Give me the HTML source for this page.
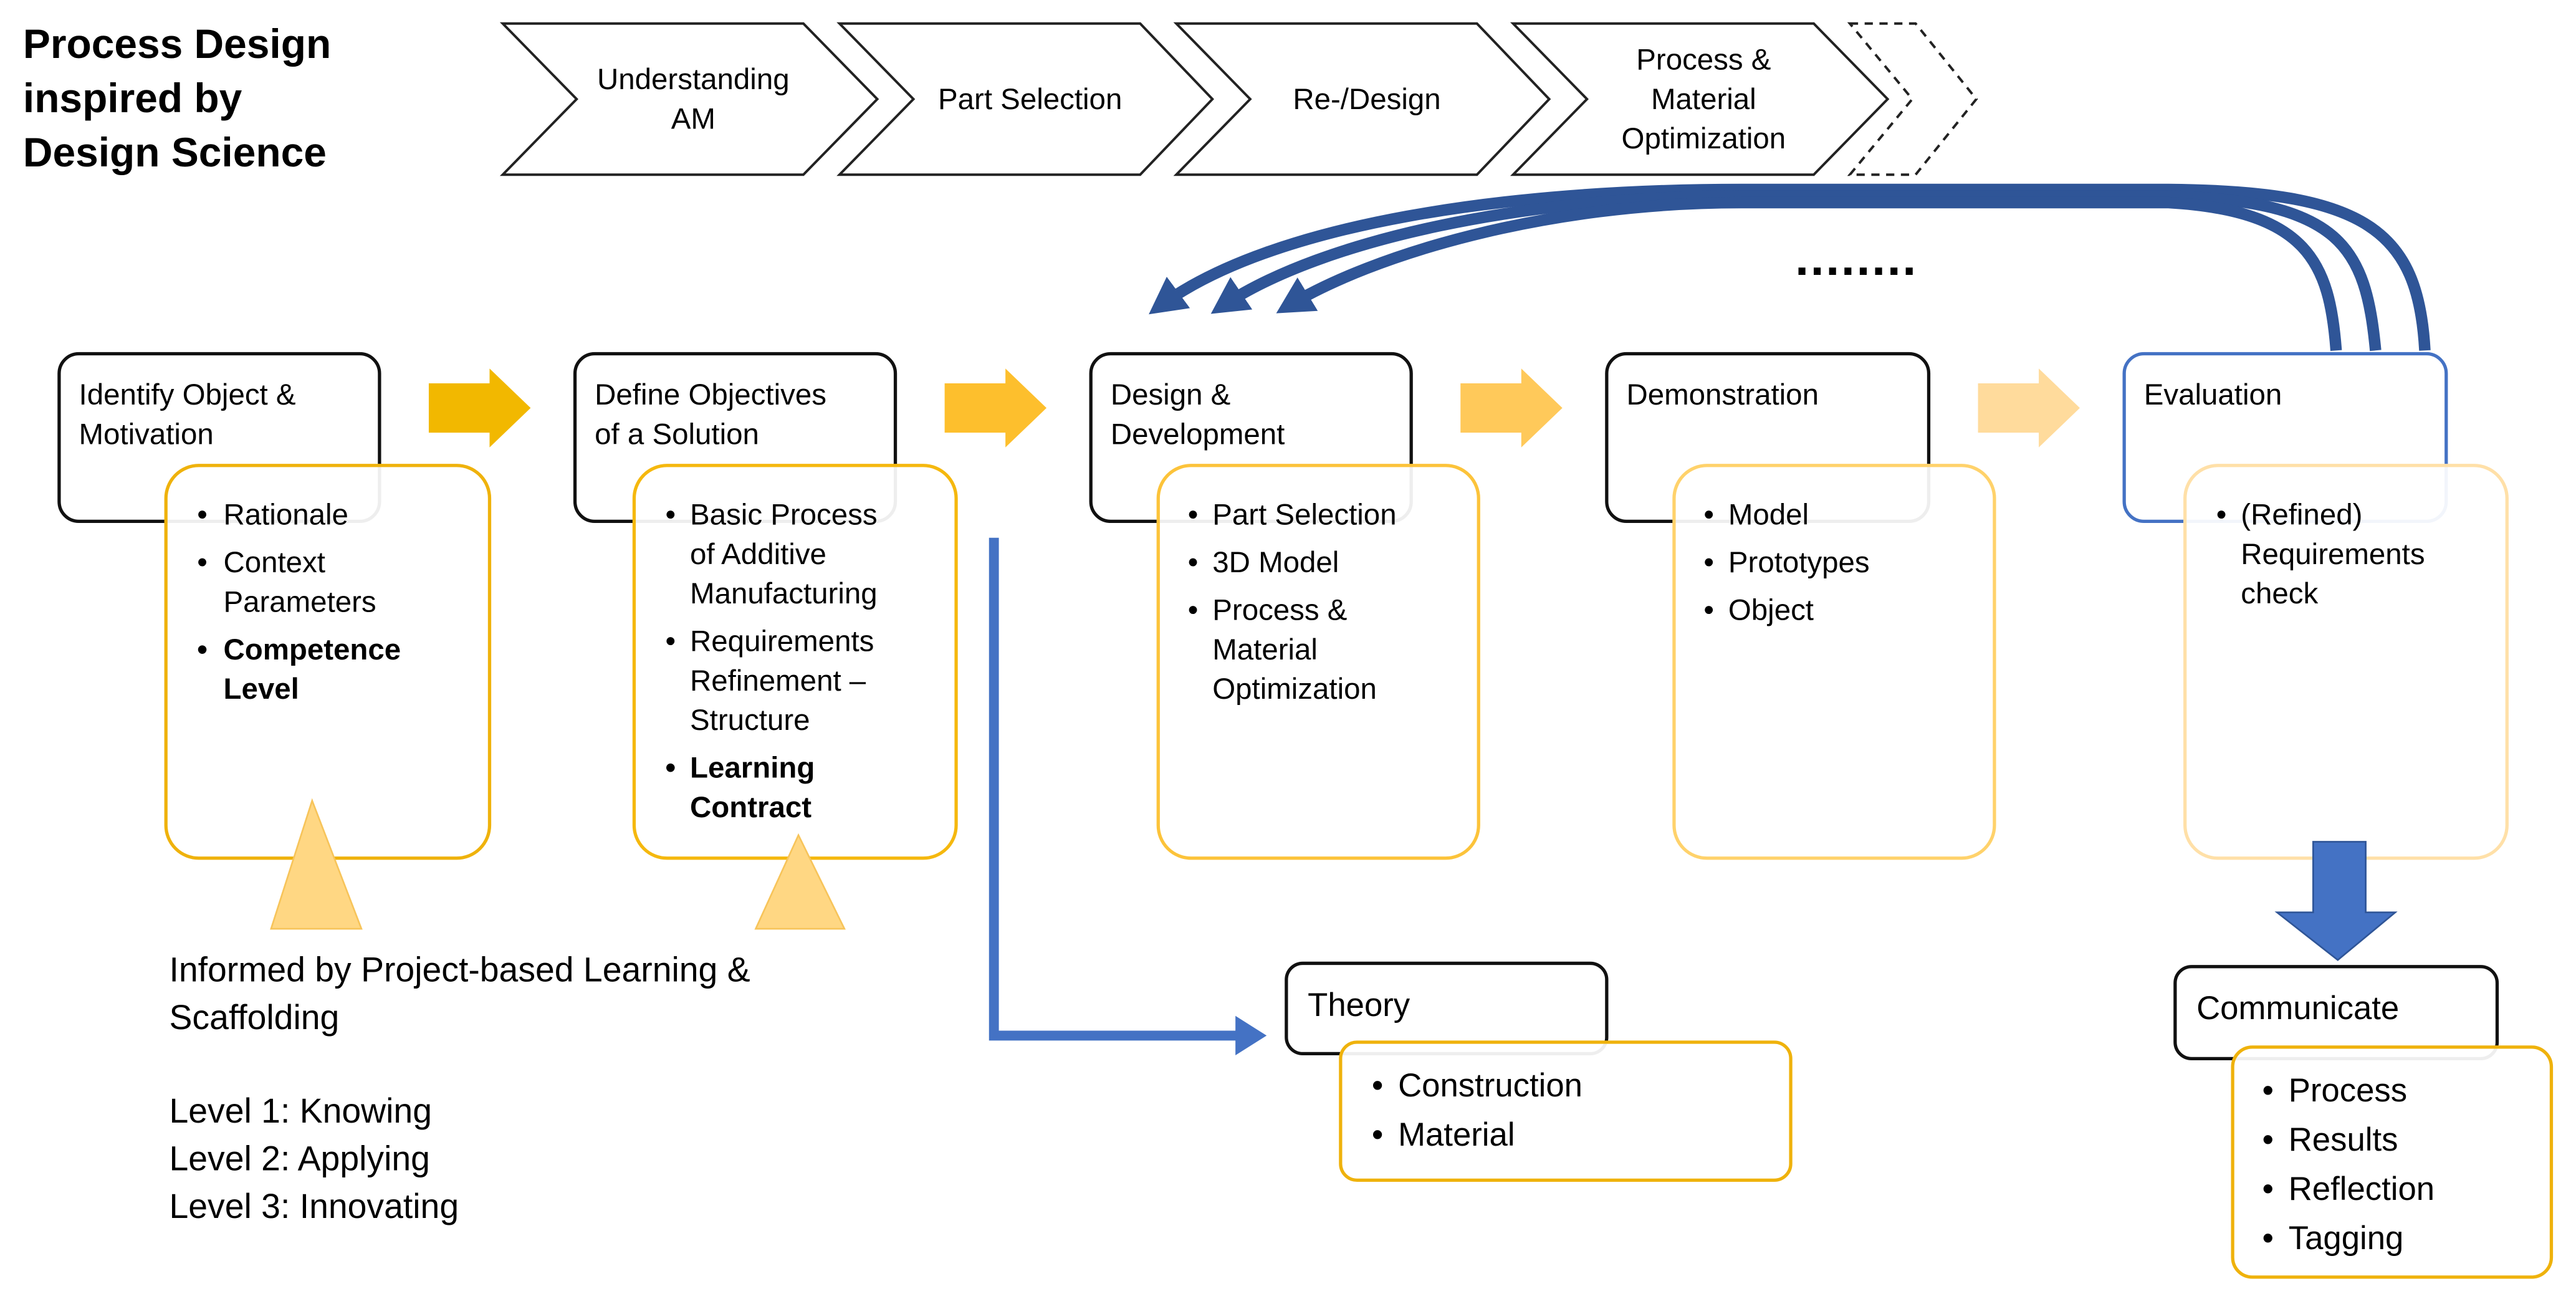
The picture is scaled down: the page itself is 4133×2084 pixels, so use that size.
<!DOCTYPE html>
<html><head><meta charset="utf-8"><style>
html,body{margin:0;padding:0;background:#fff;}
svg{display:block;}
text{font-family:"Liberation Sans",sans-serif;font-size:18px;fill:#000;}
.b{font-weight:bold;}
.l{font-size:21px;}
.m{font-size:20px;}
</style></head><body>
<svg width="4133" height="2084" viewBox="0 0 1568 790" xmlns="http://www.w3.org/2000/svg">
<defs>
<marker id="ah" markerWidth="4" markerHeight="4" refX="2" refY="2" orient="auto" markerUnits="strokeWidth">
<path d="M0,0.3 L3.2,2 L0,3.7 Z" fill="#2F5597"/>
</marker>
</defs>
<rect width="1568" height="790" fill="#fff"/>
<text x="14" y="35" class="b" style="font-size:25px">Process Design</text>
<text x="14" y="68" class="b" style="font-size:25px">inspired by</text>
<text x="14" y="101" class="b" style="font-size:25px">Design Science</text>
<g fill="#fff" stroke="#222" stroke-width="1.5">
<path d="M306,14 L489,14 L534,60 L489,106 L306,106 L351,60 Z"/>
<path d="M511,14 L694,14 L738,60 L694,106 L511,106 L556,60 Z"/>
<path d="M716,14 L899,14 L943,60 L899,106 L716,106 L761,60 Z"/>
<path d="M921,14 L1104,14 L1149,60 L1104,106 L921,106 L966,60 Z"/>
<path d="M1126,14 L1166,14 L1203,60 L1166,106 L1126,106 L1164,60 Z" stroke-dasharray="5,4"/>
</g>
<text x="422" y="54" text-anchor="middle">Understanding</text>
<text x="422" y="78" text-anchor="middle">AM</text>
<text x="627" y="66" text-anchor="middle">Part Selection</text>
<text x="832" y="66" text-anchor="middle">Re-/Design</text>
<text x="1037" y="42" text-anchor="middle">Process &amp;</text>
<text x="1037" y="66" text-anchor="middle">Material</text>
<text x="1037" y="90" text-anchor="middle">Optimization</text>
<g fill="none" stroke="#2F5597" stroke-width="7" stroke-linecap="butt">
<path d="M1476,213 C1472,140 1440,116 1320,115 L1060,115 C920,115 775,135 706,186" marker-end="url(#ah)"/>
<path d="M1446,213 C1440,150 1425,122 1320,119 L1060,119 C930,119 805,145 744,186" marker-end="url(#ah)"/>
<path d="M1422,213 C1418,160 1405,128 1320,123 L1060,123 C940,123 835,155 784,186" marker-end="url(#ah)"/>
</g>
<text x="1130" y="167" text-anchor="middle" class="b" style="font-size:30px;letter-spacing:1px">........</text>
<g fill="#fff" stroke-width="2">
<rect x="36" y="215" width="195" height="102" rx="12" stroke="#111"/>
<rect x="350" y="215" width="195" height="102" rx="12" stroke="#111"/>
<rect x="664" y="215" width="195" height="102" rx="12" stroke="#111"/>
<rect x="978" y="215" width="196" height="102" rx="12" stroke="#111"/>
<rect x="1293" y="215" width="196" height="102" rx="12" stroke="#4472C4"/>
</g>
<text x="48" y="246">Identify Object &amp;</text>
<text x="48" y="270">Motivation</text>
<text x="362" y="246">Define Objectives</text>
<text x="362" y="270">of a Solution</text>
<text x="676" y="246">Design &amp;</text>
<text x="676" y="270">Development</text>
<text x="990" y="246">Demonstration</text>
<text x="1305" y="246">Evaluation</text>
<path d="M261,233 L298,233 L298,224 L323,248 L298,272 L298,263 L261,263 Z" fill="#F2B800"/>
<path d="M575,233 L612,233 L612,224 L637,248 L612,272 L612,263 L575,263 Z" fill="#FDBF2D"/>
<path d="M889,233 L926,233 L926,224 L951,248 L926,272 L926,263 L889,263 Z" fill="#FFC95A"/>
<path d="M1204,233 L1241,233 L1241,224 L1266,248 L1241,272 L1241,263 L1204,263 Z" fill="#FFDB9C"/>
<g fill="#fff" fill-opacity="0.93" stroke-width="2">
<rect x="101" y="283" width="197" height="239" rx="20" stroke="#EFB20C"/>
<rect x="386" y="283" width="196" height="239" rx="20" stroke="#F5B80E"/>
<rect x="705" y="283" width="195" height="239" rx="20" stroke="#FCC33A"/>
<rect x="1019" y="283" width="195" height="239" rx="20" stroke="#FFD26B"/>
<rect x="1330" y="283" width="196" height="239" rx="20" stroke="#FFE0A8"/>
</g>
<text x="120" y="319">•</text><text x="136" y="319">Rationale</text>
<text x="120" y="348">•</text><text x="136" y="348">Context</text>
<text x="136" y="372">Parameters</text>
<text x="120" y="401" class="b">•</text><text x="136" y="401" class="b">Competence</text>
<text x="136" y="425" class="b">Level</text>
<text x="405" y="319">•</text><text x="420" y="319">Basic Process</text>
<text x="420" y="343">of Additive</text>
<text x="420" y="367">Manufacturing</text>
<text x="405" y="396">•</text><text x="420" y="396">Requirements</text>
<text x="420" y="420">Refinement –</text>
<text x="420" y="444">Structure</text>
<text x="405" y="473" class="b">•</text><text x="420" y="473" class="b">Learning</text>
<text x="420" y="497" class="b">Contract</text>
<text x="723" y="319">•</text><text x="738" y="319">Part Selection</text>
<text x="723" y="348">•</text><text x="738" y="348">3D Model</text>
<text x="723" y="377">•</text><text x="738" y="377">Process &amp;</text>
<text x="738" y="401">Material</text>
<text x="738" y="425">Optimization</text>
<text x="1037" y="319">•</text><text x="1052" y="319">Model</text>
<text x="1037" y="348">•</text><text x="1052" y="348">Prototypes</text>
<text x="1037" y="377">•</text><text x="1052" y="377">Object</text>
<text x="1349" y="319">•</text><text x="1364" y="319">(Refined)</text>
<text x="1364" y="343">Requirements</text>
<text x="1364" y="367">check</text>
<path d="M190,487 L220,565 L165,565 Z" fill="#FFD783" stroke="#F7C45A" stroke-width="1"/>
<path d="M486,508 L514,565 L460,565 Z" fill="#FFD783" stroke="#F7C45A" stroke-width="1"/>
<text x="103" y="597" class="l">Informed by Project-based Learning &amp;</text>
<text x="103" y="626" class="l">Scaffolding</text>
<text x="103" y="683" class="l">Level 1: Knowing</text>
<text x="103" y="712" class="l">Level 2: Applying</text>
<text x="103" y="741" class="l">Level 3: Innovating</text>
<path d="M605,327 L605,630 L755,630" fill="none" stroke="#4472C4" stroke-width="6"/>
<path d="M752,618 L771,630 L752,642 Z" fill="#4472C4"/>
<rect x="783" y="586" width="195" height="55" rx="10" fill="#fff" stroke="#111" stroke-width="2"/>
<text x="796" y="618" class="m">Theory</text>
<rect x="816" y="634" width="274" height="84" rx="10" fill="#fff" fill-opacity="0.93" stroke="#EFB20C" stroke-width="2"/>
<text x="835" y="667" class="m">•</text><text x="851" y="667" class="m">Construction</text>
<text x="835" y="697" class="m">•</text><text x="851" y="697" class="m">Material</text>
<path d="M1408,512 L1440,512 L1440,555 L1458,555 L1423,584 L1386,555 L1408,555 Z" fill="#4472C4" stroke="#2F5597" stroke-width="1"/>
<rect x="1324" y="588" width="196" height="56" rx="10" fill="#fff" stroke="#111" stroke-width="2"/>
<text x="1337" y="620" class="m">Communicate</text>
<rect x="1359" y="637" width="194" height="140" rx="12" fill="#fff" fill-opacity="0.93" stroke="#EFB20C" stroke-width="2"/>
<text x="1377" y="670" class="m">•</text><text x="1393" y="670" class="m">Process</text>
<text x="1377" y="700" class="m">•</text><text x="1393" y="700" class="m">Results</text>
<text x="1377" y="730" class="m">•</text><text x="1393" y="730" class="m">Reflection</text>
<text x="1377" y="760" class="m">•</text><text x="1393" y="760" class="m">Tagging</text>
</svg>
</body></html>
